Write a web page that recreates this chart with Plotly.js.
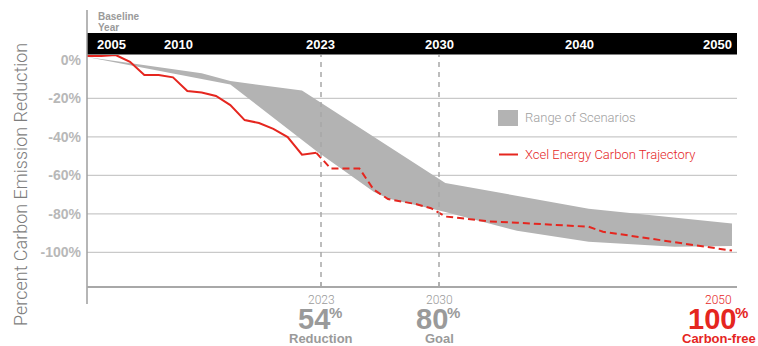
<!DOCTYPE html>
<html>
<head>
<meta charset="utf-8">
<script src="https://cdn.plot.ly/plotly-3.0.1.min.js"></script>
<style>
  html, body { margin: 0; padding: 0; background: #ffffff; }
  #chart { width: 758px; height: 346px; }
</style>
</head>
<body>
<div id="chart"></div>
<script>
// ---------- DATA ----------
// Xcel Energy carbon trajectory: actual (solid) and planned (dashed)
const actualYears  = [2005, 2006, 2007, 2008, 2009, 2010, 2011, 2012, 2013, 2014, 2015, 2016, 2017, 2018, 2019, 2020, 2021];
const actualValues = [2, 2, 2.5, -1, -7.9, -7.9, -9.1, -16.2, -17, -18.8, -23.5, -31.3, -32.8, -35.9, -40.1, -49.3, -48.3];

const planYears  = [2021, 2022, 2024, 2025, 2026, 2027, 2028, 2029, 2030, 2031, 2033, 2035, 2037, 2040, 2041, 2045, 2048, 2050];
const planValues = [-48.3, -56.4, -56.4, -67.4, -72.3, -73.5, -75, -77.1, -81.4, -82.2, -83.9, -84.6, -85.5, -86.7, -89.3, -93.7, -97, -99.1];

// Range of scenarios (upper = smallest reduction, lower = largest reduction)
const scenarioUpperYears  = [2005, 2013, 2015, 2020, 2030, 2040, 2050];
const scenarioUpperValues = [1.5, -7, -11, -16, -64, -77.3, -85];
const scenarioLowerYears  = [2005, 2015, 2021, 2025, 2026, 2030, 2035, 2040, 2046, 2050];
const scenarioLowerValues = [1.5, -12.8, -47.4, -68.5, -72, -79, -88.8, -94.5, -97.1, -96.7];

// Axis ticks
const yTickValues = [0, -20, -40, -60, -80, -100];
const yTickLabels = ['0%', '-20%', '-40%', '-60%', '-80%', '-100%'];

// Header bar labels
const headerLabels = ['2005', '2010', '2023', '2030', '2040', '2050'];

// Milestones (bottom call-outs)
const milestoneYears    = ['2023', '2030', '2050'];
const milestoneValues   = ['54', '80', '100'];
const milestoneCaptions = ['Reduction', 'Goal', 'Carbon-free'];

const legendLabels = ['Range of Scenarios', 'Xcel Energy Carbon Trajectory'];
const yTitle = 'Percent Carbon Emission Reduction';
const baselineNote = ['Baseline', 'Year'];

// ---------- STYLE / LAYOUT ----------
const RED = '#e5261f';
const BAND = '#b3b3b3';
const GRID = '#c9c9c9';
const BOLD = 'Liberation Sans, Arial, sans-serif';
const LIGHT = 'Roboto, Noto Sans, sans-serif';

const PLOT_TOP = 55, PLOT_BOTTOM = 287, PLOT_LEFT = 87, PLOT_RIGHT = 737;
const PH = PLOT_BOTTOM - PLOT_TOP, PW = PLOT_RIGHT - PLOT_LEFT;
const px = x => (x - PLOT_LEFT) / PW;          // pixel x -> paper x
const py = y => (PLOT_BOTTOM - y) / PH;        // pixel y -> paper y

const headerPos = [111, 178, 320.5, 439, 579, 717.5];
const milestonePos = [321, 439, 718.5];
const milestoneColors = ['#9a9a9a', '#9a9a9a', RED];
const BIG = 29, DIGIT_W = 0.556 * BIG, PCT_W = 14;

const traces = [
  {
    x: scenarioUpperYears.concat(scenarioLowerYears.slice().reverse()),
    y: scenarioUpperValues.concat(scenarioLowerValues.slice().reverse()),
    type: 'scatter', mode: 'lines', fill: 'toself',
    fillcolor: BAND, line: { width: 0, color: BAND },
    hoverinfo: 'skip', showlegend: false
  },
  {
    x: actualYears, y: actualValues, type: 'scatter', mode: 'lines',
    line: { color: RED, width: 2 }, hoverinfo: 'skip', showlegend: false
  },
  {
    x: planYears, y: planValues, type: 'scatter', mode: 'lines',
    line: { color: RED, width: 2, dash: '7px,4px' }, hoverinfo: 'skip', showlegend: false
  }
];

const shapes = [];
// gridlines (no line at 0)
yTickValues.filter(v => v !== 0).forEach(v => {
  shapes.push({ type: 'line', xref: 'paper', yref: 'y', x0: 0, x1: 1, y0: v, y1: v,
    line: { color: GRID, width: 1.3 }, layer: 'below' });
});
// milestone dashed lines (2023, 2030)
[321, 439].forEach(p => {
  shapes.push({ type: 'line', xref: 'paper', yref: 'paper', x0: px(p), x1: px(p), y0: 0, y1: 1,
    line: { color: '#a8a8a8', width: 1.5, dash: '5px,5px' }, layer: 'above' });
  shapes.push({ type: 'line', xref: 'paper', yref: 'paper', x0: px(p), x1: px(p), y0: 0, y1: py(282),
    line: { color: '#a8a8a8', width: 1.2 } });
});
// header black bar
shapes.push({ type: 'rect', xref: 'paper', yref: 'paper', x0: 0, x1: 1, y0: py(54.5), y1: py(33),
  fillcolor: '#000', line: { width: 0 } });
// left axis line
shapes.push({ type: 'line', xref: 'paper', yref: 'paper', x0: 0, x1: 0, y0: py(304), y1: py(10),
  line: { color: '#9e9e9e', width: 1.5 } });
// bottom axis line
shapes.push({ type: 'line', xref: 'paper', yref: 'paper', x0: 0, x1: 1, y0: 0, y1: 0,
  line: { color: '#a8a8a8', width: 2 } });
// legend symbols
shapes.push({ type: 'rect', xref: 'paper', yref: 'paper', x0: px(498), x1: px(518), y0: py(126), y1: py(110),
  fillcolor: BAND, line: { width: 0 } });
shapes.push({ type: 'line', xref: 'paper', yref: 'paper', x0: px(499), x1: px(518), y0: py(154.5), y1: py(154.5),
  line: { color: RED, width: 2 } });

const annotations = [];
headerLabels.forEach((t, i) => {
  annotations.push({ text: t, xref: 'paper', yref: 'paper', x: px(headerPos[i]), y: py(44),
    xanchor: 'center', yanchor: 'middle', showarrow: false,
    font: { family: BOLD, size: 13, color: '#ffffff', weight: 'bold' } });
});
baselineNote.forEach((t, i) => {
  annotations.push({ text: t, xref: 'paper', yref: 'paper', x: px(96), y: py(i === 0 ? 16.5 : 27),
    xanchor: 'left', yanchor: 'middle', showarrow: false,
    font: { family: BOLD, size: 10, color: '#9a9a9a', weight: 'bold' } });
});
legendLabels.forEach((t, i) => {
  annotations.push({ text: t, xref: 'paper', yref: 'paper', x: px(523), y: py(i === 0 ? 117.5 : 154.5),
    xanchor: 'left', yanchor: 'middle', showarrow: false,
    font: { family: LIGHT, size: 13, color: i === 0 ? '#a0a0a0' : RED, weight: 300 } });
});
annotations.push({ text: yTitle, xref: 'paper', yref: 'paper', x: px(20), y: py(185),
  xanchor: 'center', yanchor: 'middle', textangle: -90, showarrow: false,
  font: { family: LIGHT, size: 18, color: '#7d7d7d', weight: 300 } });
milestoneYears.forEach((t, i) => {
  const c = milestoneColors[i];
  const numW = milestoneValues[i].length * DIGIT_W;
  const numRight = milestonePos[i] - (numW + PCT_W) / 2 + numW;
  annotations.push({ text: t, xref: 'paper', yref: 'paper', x: px(milestonePos[i]), y: py(300),
    xanchor: 'center', yanchor: 'middle', showarrow: false, borderpad: 0,
    font: { family: LIGHT, size: 12, color: c, weight: 300 } });
  annotations.push({ text: milestoneValues[i], xref: 'paper', yref: 'paper',
    x: px(numRight + 1), y: py(319), xanchor: 'right', yanchor: 'middle', showarrow: false, borderpad: 0,
    font: { family: BOLD, size: BIG, color: c, weight: 'bold' } });
  annotations.push({ text: '%', xref: 'paper', yref: 'paper',
    x: px(numRight - 2), y: py(312), xanchor: 'left', yanchor: 'middle', showarrow: false, borderpad: 0,
    font: { family: BOLD, size: 15, color: c, weight: 'bold' } });
  annotations.push({ text: milestoneCaptions[i], xref: 'paper', yref: 'paper', x: px(milestonePos[i]), y: py(338.5),
    xanchor: 'center', yanchor: 'middle', showarrow: false, borderpad: 0,
    font: { family: BOLD, size: 13, color: c, weight: 'bold' } });
});

const layout = {
  width: 758, height: 346,
  margin: { l: PLOT_LEFT, r: 758 - PLOT_RIGHT, t: PLOT_TOP, b: 346 - PLOT_BOTTOM, pad: 0 },
  paper_bgcolor: '#ffffff', plot_bgcolor: '#ffffff',
  showlegend: false,
  xaxis: { range: [2005, 2050.35], visible: false, fixedrange: true },
  yaxis: {
    range: [-118, 2.5], tickvals: yTickValues, ticktext: yTickLabels,
    showgrid: false, zeroline: false, showline: false, ticks: '',
    ticklabelstandoff: 5,
    tickfont: { family: BOLD, size: 14, color: '#b8b8b8', weight: 'bold' },
    fixedrange: true
  },
  shapes: shapes,
  annotations: annotations
};

Plotly.newPlot('chart', traces, layout, { displayModeBar: false, staticPlot: true });
</script>
</body>
</html>
